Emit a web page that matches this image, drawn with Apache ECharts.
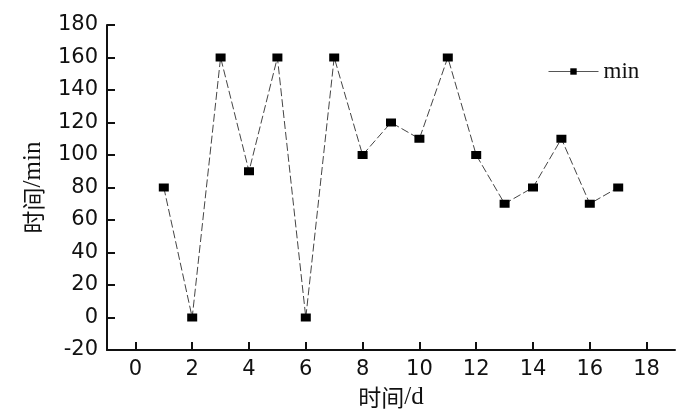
<!DOCTYPE html>
<html><head><meta charset="utf-8">
<script src="https://cdn.jsdelivr.net/npm/echarts@6/dist/echarts.min.js"></script>
<style>html,body{margin:0;padding:0;background:#fff}#c{width:700px;height:414px}</style>
</head><body><div id="c"></div>
<script>
const days = [1,2,3,4,5,6,7,8,9,10,11,12,13,14,15,16,17];
const minutes = [80,0,160,90,160,0,160,100,120,110,160,100,70,80,110,70,80];
const seriesName = 'min';
const xTickValues = [0,2,4,6,8,10,12,14,16,18];

const chart = echarts.init(document.getElementById('c'));
const tickFont = {fontFamily:'"DejaVu Sans",sans-serif', fontSize:21, color:'#111'};
const richName = {
  cn:{fontFamily:'"Noto Sans CJK SC",sans-serif', fontSize:23, color:'#111'},
  en:{fontFamily:'"Liberation Serif","Times New Roman",serif', fontSize:25, color:'#111'}
};
chart.setOption({
  animation:false,
  grid:{left:107,right:25,top:25,bottom:64,containLabel:false,outerBoundsMode:'none'},
  legend:{
    data:[seriesName], left:543, top:55, itemWidth:50, itemHeight:8, itemGap:5,
    lineStyle:{type:'solid', color:'#555', width:1},
    textStyle:{fontFamily:'"Liberation Serif","Times New Roman",serif', fontSize:23, color:'#111'}
  },
  xAxis:{
    type:'value', min:-1, max:19, interval:1,
    axisLine:{show:true, onZero:false, lineStyle:{color:'#111', width:2}},
    axisTick:{show:true, inside:true, length:8, lineStyle:{color:'#111', width:2},
      customValues:xTickValues},
    axisLabel:{...tickFont, margin:9, customValues:xTickValues},
    splitLine:{show:false},
    name: '{cn|时间}{en|/d}', nameLocation:'middle', nameGap:35,
    nameTextStyle:{rich:richName}
  },
  yAxis:{
    type:'value', min:-20, max:180, interval:20,
    axisLine:{show:true, onZero:false, lineStyle:{color:'#111', width:2}},
    axisTick:{show:true, inside:true, length:8, lineStyle:{color:'#111', width:2}},
    axisLabel:{...tickFont, margin:9},
    splitLine:{show:false},
    name: '{cn|时间}{en|/min}', nameLocation:'middle', nameGap:61, nameRotate:90,
    nameTextStyle:{rich:richName}
  },
  series:[{
    name:seriesName, type:'line',
    data: days.map((d,i)=>[d, minutes[i]]),
    symbol:'rect', symbolSize:[10,8],
    itemStyle:{color:'#000'},
    lineStyle:{color:'#444', width:1, type:[8,3]}
  }]
});
</script>
</body></html>
